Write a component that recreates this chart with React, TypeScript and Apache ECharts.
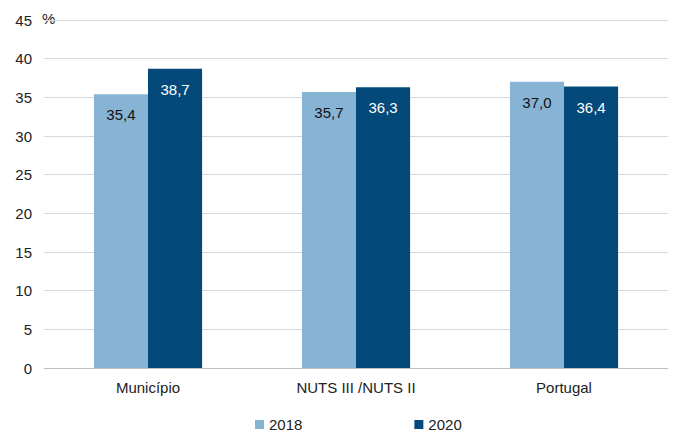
import React, { useEffect, useRef } from "react";
import * as echarts from "echarts";

const categories = ["Município", "NUTS III /NUTS II", "Portugal"];
const seriesNames = ["2018", "2020"];
const values2018 = [35.4, 35.7, 37.0];
const values2020 = [38.7, 36.3, 36.4];
const yTicks = [0, 45, 5];

const FONT = "Liberation Sans, Arial, sans-serif";
const FS = 15;

export default function App() {
  const ref = useRef<HTMLDivElement>(null);
  useEffect(() => {
    if (!ref.current) return;
    const chart = echarts.init(ref.current, undefined, { renderer: "svg" });
    const fmt = (p: any) => p.value.toFixed(1).replace(".", ",");
    chart.setOption({
      animation: false,
      textStyle: { fontFamily: FONT },
      grid: { left: 44, right: 5, top: 20, bottom: 64 },
      graphic: [
        {
          type: "text",
          left: 42,
          top: 11,
          style: { text: "%", fontSize: FS, fill: "#222", fontFamily: FONT },
        },
      ],
      legend: {
        left: 255,
        top: 417,
        padding: 0,
        itemWidth: 9,
        itemHeight: 9,
        itemGap: 112,
        icon: "rect",
        textStyle: { fontSize: FS, color: "#222", fontFamily: FONT },
        data: seriesNames,
      },
      xAxis: {
        type: "category",
        data: categories,
        axisTick: { show: false },
        axisLine: { lineStyle: { color: "#bfbfbf" } },
        axisLabel: { fontSize: FS, color: "#222", margin: 12, fontFamily: FONT },
      },
      yAxis: {
        type: "value",
        min: yTicks[0],
        max: yTicks[1],
        interval: yTicks[2],
        axisLine: { show: false },
        axisTick: { show: false },
        splitLine: { lineStyle: { color: "#d9d9d9" } },
        axisLabel: { fontSize: FS, color: "#222", margin: 12, fontFamily: FONT },
      },
      series: [
        {
          name: seriesNames[0],
          type: "bar",
          data: values2018,
          barGap: "0%",
          barCategoryGap: "48%",
          itemStyle: { color: "#87b4d4" },
          label: {
            show: true,
            position: "insideTop",
            distance: 13,
            formatter: fmt,
            fontSize: FS,
            color: "#111",
            fontFamily: FONT,
          },
        },
        {
          name: seriesNames[1],
          type: "bar",
          data: values2020,
          barGap: "0%",
          barCategoryGap: "48%",
          itemStyle: { color: "#034a7b" },
          label: {
            show: true,
            position: "insideTop",
            distance: 13,
            formatter: fmt,
            fontSize: FS,
            color: "#fff",
            fontFamily: FONT,
          },
        },
      ],
    });
    return () => chart.dispose();
  }, []);
  return <div ref={ref} style={{ width: 673, height: 432, position: "absolute", left: 0, top: 0 }} />;
}
